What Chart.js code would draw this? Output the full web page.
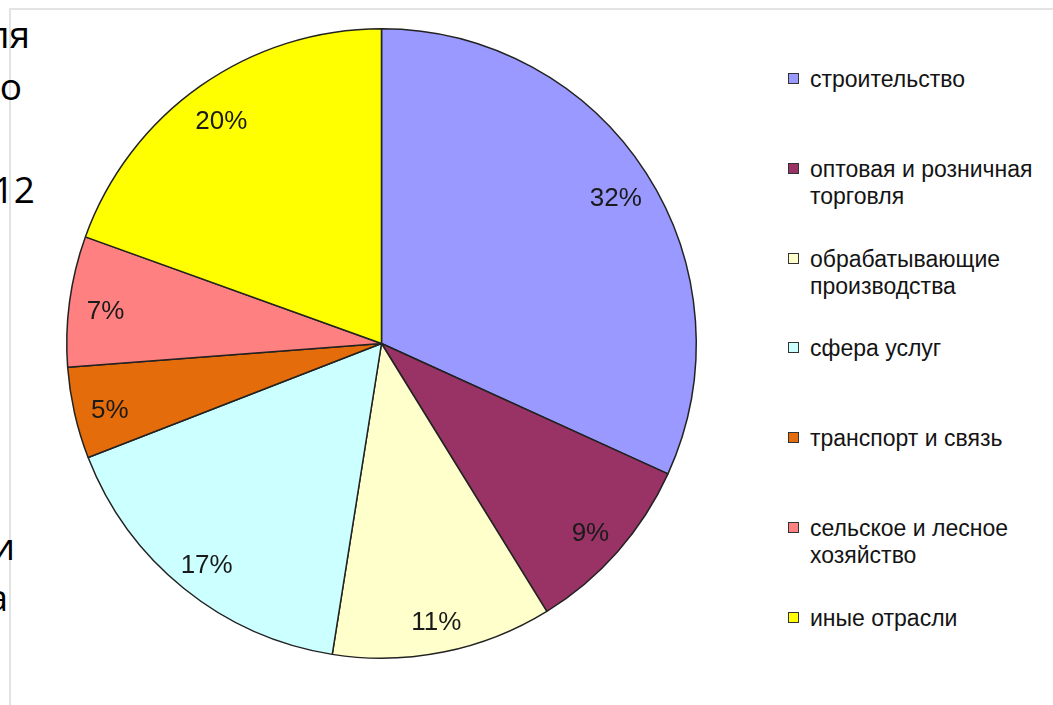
<!DOCTYPE html>
<html>
<head>
<meta charset="utf-8">
<script src="https://cdn.jsdelivr.net/npm/chart.js@4/dist/chart.umd.min.js"></script>
<style>
  html, body { margin: 0; padding: 0; background: #fff; }
  body { width: 1053px; height: 705px; position: relative; overflow: hidden; }
  #frameTop { position: absolute; left: 9px; top: 8px; width: 1044px; height: 2px; background: #e3e3e3; }
  #frameLeft { position: absolute; left: 9px; top: 8px; width: 2px; height: 697px; background: #e3e3e3; }
  #docText { position: absolute; left: 0; top: 0; width: 40px; height: 705px; overflow: hidden; }
  #docText div {
    position: absolute; white-space: nowrap; text-align: right;
    font-family: "Open Sans", sans-serif; font-size: 37px; color: #000; line-height: 1;
  }
  #chartBox { position: absolute; left: 56px; top: 18px; }
  #legend { position: absolute; left: 788px; top: 66px; font-family: "Liberation Sans", Arial, sans-serif; font-size: 23px; color: #141414; }
  .item { position: relative; height: 89.8px; padding-left: 22px; line-height: 27px; }
  .item .box { position: absolute; left: 0; top: 7px; width: 9px; height: 9px; border: 1.5px solid #333; }
</style>
</head>
<body>
<div id="frameTop"></div>
<div id="frameLeft"></div>
<div id="docText"></div>
<div id="chartBox"><canvas id="pieChart" width="651" height="651"></canvas></div>
<div id="legend"></div>
<script>
const categories = [
    ['строительство'],
    ['оптовая и розничная', 'торговля'],
    ['обрабатывающие', 'производства'],
    ['сфера услуг'],
    ['транспорт и связь'],
    ['сельское и лесное', 'хозяйство'],
    ['иные отрасли']
];
const shares = [31.8, 9.4, 11.3, 16.6, 4.7, 6.7, 19.5];
const colors = ['#9999ff', '#993366', '#ffffcc', '#ccffff', '#e46c0a', '#ff8080', '#ffff00'];

// обрывки текста документа слева
const docFragments = [
    { text: 'ля', right: 30, base: 43 },
    { text: 'о', right: 22, base: 95 },
    { text: '12', right: 35, base: 198 },
    { text: 'и', right: 15, base: 555 },
    { text: 'а', right: 8, base: 606 }
];

const docBox = document.getElementById('docText');
docFragments.forEach(f => {
    const d = document.createElement('div');
    d.textContent = f.text;
    d.style.right = (40 - f.right) + 'px';
    d.style.top = (f.base - 28) + 'px';
    docBox.appendChild(d);
});

// легенда
const legendBox = document.getElementById('legend');
categories.forEach((lines, i) => {
    const item = document.createElement('div');
    item.className = 'item';
    const box = document.createElement('div');
    box.className = 'box';
    box.style.background = colors[i];
    item.appendChild(box);
    lines.forEach(t => {
        const l = document.createElement('div');
        l.textContent = t;
        item.appendChild(l);
    });
    legendBox.appendChild(item);
});

// подписи процентов внутри секторов
const percentLabels = {
    id: 'percentLabels',
    afterDatasetsDraw(chart) {
        const ctx = chart.ctx;
        const meta = chart.getDatasetMeta(0);
        const data = chart.data.datasets[0].data;
        const total = data.reduce((a, b) => a + b, 0);
        ctx.save();
        ctx.font = '26px "Liberation Sans", Arial, sans-serif';
        ctx.fillStyle = '#1a1a1a';
        ctx.textAlign = 'center';
        ctx.textBaseline = 'alphabetic';
        meta.data.forEach((arc, i) => {
            const p = arc.getProps(['x', 'y', 'startAngle', 'endAngle', 'outerRadius'], true);
            const mid = (p.startAngle + p.endAngle) / 2;
            const r = p.outerRadius * 0.885;
            const txt = Math.round(data[i] / total * 100) + '%';
            ctx.fillText(txt, p.x + Math.cos(mid) * r, p.y + Math.sin(mid) * r + 13);
        });
        ctx.restore();
    }
};

const ctx = document.getElementById('pieChart').getContext('2d');
const chart = new Chart(ctx, {
    type: 'pie',
    data: {
        labels: categories.map(c => c.join(' ')),
        datasets: [{
            data: shares,
            backgroundColor: colors,
            borderColor: '#222',
            borderWidth: 1.5
        }]
    },
    options: {
        responsive: false,
        animation: false,
        devicePixelRatio: 1,
        layout: { padding: 10 },
        plugins: {
            legend: { display: false },
            tooltip: { enabled: false }
        }
    },
    plugins: [percentLabels]
});
</script>
</body>
</html>
